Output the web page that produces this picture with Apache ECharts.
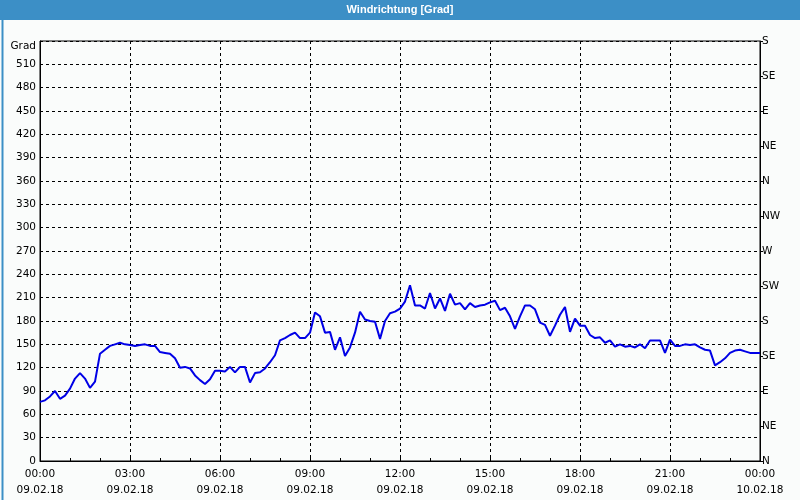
<!DOCTYPE html>
<html>
<head>
<meta charset="utf-8">
<script src="https://cdn.jsdelivr.net/npm/echarts@6/dist/echarts.min.js"></script>
<style>
html,body{margin:0;padding:0;background:#fafcfb;}
#chart{width:800px;height:500px;}
</style>
</head>
<body>
<div id="chart"></div>
<script>
const chartTitle = 'Windrichtung [Grad]';
const yAxisName = 'Grad';
const stepMinutes = 10;
const windDir = [
  76, 78, 83, 90, 80, 84, 93, 106, 113, 106, 94, 102,
  138, 143, 148, 150, 152, 150, 149, 148, 149, 150, 148, 148,
  140, 139, 138, 132, 120, 121, 119, 110, 104, 99, 105, 116,
  116, 115, 121, 114, 121, 121, 101, 113, 114, 119, 127, 136,
  155, 158, 162, 165, 158, 158, 165, 191, 186, 165, 166, 143,
  159, 135, 146, 165, 192, 182, 180, 179, 157, 180, 190, 192,
  196, 205, 226, 200, 200, 196, 216, 196, 209, 193, 215, 201,
  203, 195, 203, 198, 200, 201, 204, 206, 194, 197, 186, 170,
  186, 200, 200, 195, 178, 175, 161, 174, 188, 198, 166, 183,
  174, 174, 162, 158, 159, 152, 155, 147, 150, 147, 148, 146,
  150, 145, 155, 155, 155, 139, 156, 148, 148, 150, 149, 150,
  146, 143, 142, 123, 127, 132, 139, 142, 143, 141, 139, 139,
  139
];
const xTickLabels = [
  '00:00\n09.02.18', '03:00\n09.02.18', '06:00\n09.02.18', '09:00\n09.02.18',
  '12:00\n09.02.18', '15:00\n09.02.18', '18:00\n09.02.18', '21:00\n09.02.18',
  '00:00\n10.02.18'
];
const compassLabels = ['N','NE','E','SE','S','SW','W','NW','N','NE','E','SE','S'];

const FONT = 'DejaVu Sans';
const chart = echarts.init(document.getElementById('chart'), null, {renderer: 'canvas'});
const seriesData = windDir.map((v, i) => [i * stepMinutes, v]);

chart.setOption({
  backgroundColor: '#fafcfb',
  animation: false,
  graphic: [
    {type: 'rect', left: 0, top: 0, shape: {width: 800, height: 20}, style: {fill: '#3c8fc6'}, z: 10},
    {type: 'rect', left: 0, top: 0, shape: {x: 0, y: 0, width: 799, height: 499}, style: {fill: 'none', stroke: '#3c8fc6', lineWidth: 2}, z: 10},
    {type: 'text', left: 'center', top: 4, style: {text: chartTitle, fill: '#ffffff', font: 'bold 11px "Liberation Sans Narrow", "Liberation Sans", sans-serif'}, z: 11}
  ],
  grid: {left: 40, right: 40, top: 41, bottom: 39, show: true, borderColor: '#000', borderWidth: 1, backgroundColor: 'transparent'},
  xAxis: {
    type: 'value', min: 0, max: 1440, interval: 180,
    axisLine: {show: true, lineStyle: {color: '#000', width: 1}},
    axisTick: {show: true, inside: true, length: 3, lineStyle: {color: '#000'}},
    minorTick: {show: true, splitNumber: 3, length: 3, lineStyle: {color: '#000'}},
    splitLine: {show: true, lineStyle: {color: '#000', type: [3, 3], width: 1}},
    axisLabel: {
      margin: 5, color: '#000', fontFamily: FONT, fontSize: 10.5, lineHeight: 16,
      formatter: v => xTickLabels[Math.round(v / 180)] || ''
    }
  },
  yAxis: [
    {
      type: 'value', min: 0, max: 540, interval: 30, position: 'left',
      axisLine: {show: true, lineStyle: {color: '#000', width: 1}},
      axisTick: {show: false},
      splitLine: {show: true, lineStyle: {color: '#000', type: [3, 3], width: 1}},
      axisLabel: {
        margin: 4, color: '#000', fontFamily: FONT, fontSize: 10.5,
        formatter: v => v === 540 ? '{g|' + yAxisName + '}' : String(v),
        rich: {g: {padding: [10, 0, 0, 0], fontFamily: FONT, fontSize: 10.5, color: '#000'}}
      }
    },
    {
      type: 'value', min: 0, max: 540, interval: 45, position: 'right',
      axisLine: {show: true, lineStyle: {color: '#000', width: 1}},
      axisTick: {show: true, inside: false, length: 3, lineStyle: {color: '#000'}},
      splitLine: {show: false},
      axisLabel: {
        margin: 2, color: '#000', fontFamily: FONT, fontSize: 10.5,
        formatter: v => compassLabels[Math.round(v / 45)] || ''
      }
    }
  ],
  series: [{
    type: 'line', data: seriesData, yAxisIndex: 0,
    showSymbol: false, symbol: 'none',
    lineStyle: {color: '#0000e6', width: 2},
    itemStyle: {color: '#0000e6'}
  }]
});
</script>
</body>
</html>
